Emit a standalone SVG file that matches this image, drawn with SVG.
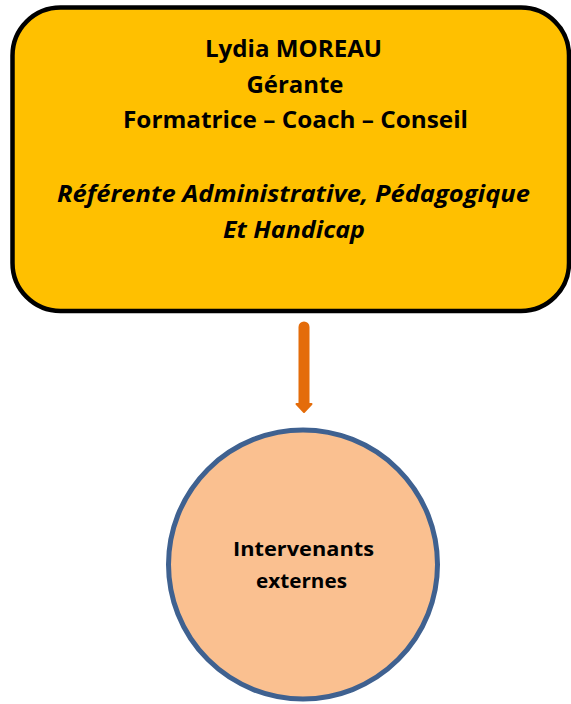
<svg xmlns="http://www.w3.org/2000/svg" width="571" height="704" viewBox="0 0 571 704">
<style>
.t{font-family:"Open Sans","Liberation Sans",sans-serif;font-weight:bold;fill:#000;text-anchor:middle}
.big{font-size:23px}
.it{font-style:italic}
.small{font-size:20px}
</style>
<rect width="571" height="704" fill="#fff"/>
<g id="node-lydia">
<rect x="12.5" y="7.5" width="556.5" height="303.5" rx="48" ry="48" fill="#FFC000" stroke="#000" stroke-width="4.5"/>
<text class="t big" x="293.5" y="57" textLength="177" lengthAdjust="spacingAndGlyphs">Lydia MOREAU</text>
<text class="t big" x="295" y="93" textLength="97" lengthAdjust="spacingAndGlyphs">Gérante</text>
<text class="t big" x="295.5" y="128" textLength="345" lengthAdjust="spacingAndGlyphs">Formatrice – Coach – Conseil</text>
<text class="t big it" x="293.5" y="202" textLength="473" lengthAdjust="spacingAndGlyphs">Référente Administrative, Pédagogique</text>
<text class="t big it" x="294" y="238" textLength="142" lengthAdjust="spacingAndGlyphs">Et Handicap</text>
</g>
<g id="connectors">
<line x1="304" y1="327" x2="304" y2="404" stroke="#E46C0A" stroke-width="11" stroke-linecap="round"/>
<path d="M296.5 404 L311.5 404 L304 412 Z" fill="#E46C0A" stroke="#E46C0A" stroke-width="2" stroke-linejoin="round"/>
</g>
<g id="node-intervenants">
<circle cx="303" cy="564.5" r="134.5" fill="#FAC090" stroke="#3F6190" stroke-width="5"/>
<text class="t small" x="303.5" y="556" textLength="141" lengthAdjust="spacingAndGlyphs">Intervenants</text>
<text class="t small" x="301.5" y="588" textLength="91" lengthAdjust="spacingAndGlyphs">externes</text>
</g>
</svg>
